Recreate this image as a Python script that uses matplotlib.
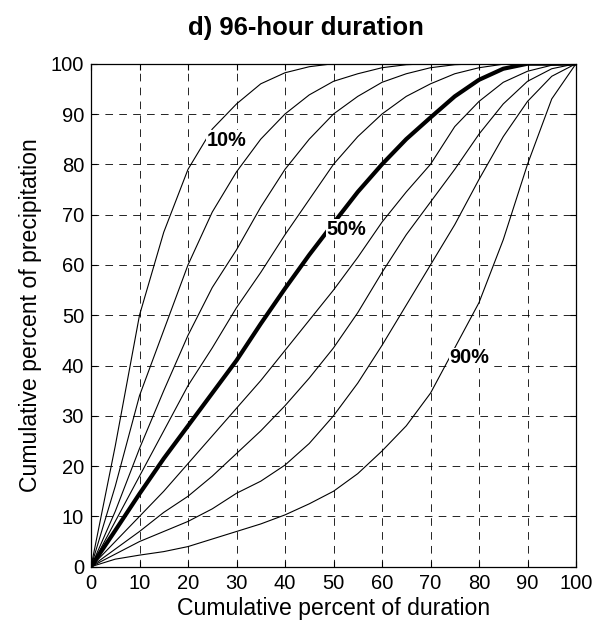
import matplotlib
matplotlib.use('Agg')
import matplotlib.pyplot as plt

plt.rcParams['font.family'] = ['Liberation Sans', 'DejaVu Sans']
plt.rcParams['lines.scale_dashes'] = False

# Cumulative percent of duration
x_pct = [0, 5, 10, 15, 20, 25, 30, 35, 40, 45, 50, 55, 60, 65, 70, 75, 80, 85, 90, 95, 100]

# Cumulative percent of precipitation for each probability curve
y_p10 = [0, 24, 50, 66.5, 79, 87, 92, 96, 98.2, 99.4, 100, 100, 100, 100, 100, 100, 100, 100, 100, 100, 100]
y_p20 = [0, 16, 34, 47, 60, 70.5, 78.5, 85, 90, 93.8, 96.5, 98, 99.2, 99.8, 100, 100, 100, 100, 100, 100, 100]
y_p30 = [0, 11, 23.5, 35, 46, 55.5, 63, 71.5, 79, 85, 90, 93.5, 96.3, 98, 99.2, 99.8, 100, 100, 100, 100, 100]
y_p40 = [0, 9, 18, 27, 36, 43.5, 51.5, 58.5, 66, 73, 80, 85.5, 90, 93.5, 96, 98, 99.2, 99.9, 100, 100, 100]
y_p50 = [0, 7.2, 14.5, 21.5, 28, 34.5, 41, 48.3, 55.3, 62, 68.3, 74.5, 80, 85, 89.3, 93.5, 96.8, 99, 100, 100, 100]
y_p60 = [0, 5, 10, 15, 20.5, 26, 31.5, 37, 43, 49, 55, 61.5, 68.5, 74.5, 80, 87.5, 92.5, 96.3, 98.5, 99.7, 100]
y_p70 = [0, 3.5, 7, 10.8, 14, 18, 22.5, 27, 32, 37.5, 43.5, 50.5, 58.5, 66, 72.5, 79, 86, 92, 96.5, 99, 100]
y_p80 = [0, 2.5, 5, 7, 9, 11.5, 14.6, 17, 20.2, 24.5, 30, 36.5, 44, 52, 60, 68, 77, 85.5, 92.5, 97.5, 100]
y_p90 = [0, 1.5, 2.3, 3, 4, 5.5, 7, 8.5, 10.3, 12.5, 15, 18.5, 23, 28, 34.5, 43.5, 52.5, 65, 80, 93, 100]

curves = [y_p10, y_p20, y_p30, y_p40, y_p50, y_p60, y_p70, y_p80, y_p90]
curve_names = ['10%', '20%', '30%', '40%', '50%', '60%', '70%', '80%', '90%']
bold_curve = '50%'

# Labels shown on the chart and their positions (x, y)
label_names = ['10%', '50%', '90%']
label_x = [28.0, 52.7, 78.0]
label_y = [84.8, 67.0, 41.5]

ticks = [0, 10, 20, 30, 40, 50, 60, 70, 80, 90, 100]

fig = plt.figure(figsize=(6.05, 6.31), dpi=100)
ax = fig.add_axes([91/605, 1 - 566.7/631, (576 - 91)/605, (566.7 - 63.7)/631])

for name, ys in zip(curve_names, curves):
    if name == bold_curve:
        ax.plot(x_pct, ys, color='black', lw=3.0, solid_joinstyle='round',
                solid_capstyle='round', zorder=3)
    else:
        ax.plot(x_pct, ys, color='black', lw=0.8, zorder=3)

for name, lx, ly in zip(label_names, label_x, label_y):
    ax.text(lx, ly, name, ha='center', va='center', fontsize=14.3,
            fontweight='bold', zorder=5,
            bbox=dict(facecolor='white', edgecolor='none', pad=0.6))

ax.set_xlim(0, 100)
ax.set_ylim(0, 100)
ax.set_xticks(ticks)
ax.set_yticks(ticks)
ax.tick_params(direction='in', top=True, right=True, length=4, width=0.8,
               labelsize=14.5, pad=5, colors='black')
ax.grid(True, color='black', linestyle=(0, (5.5, 4.5)), linewidth=0.6)
for s in ax.spines.values():
    s.set_linewidth(0.9)
    s.set_color('black')

ax.set_xlabel('Cumulative percent of duration', fontsize=16.6, labelpad=3)
ax.set_ylabel('Cumulative percent of precipitation', fontsize=16.6, labelpad=6)
fig.text(0.505, 1 - 28/631, 'd) 96-hour duration', ha='center', va='center',
         fontsize=18.5, fontweight='bold')

fig.savefig('out.png', dpi=100)
